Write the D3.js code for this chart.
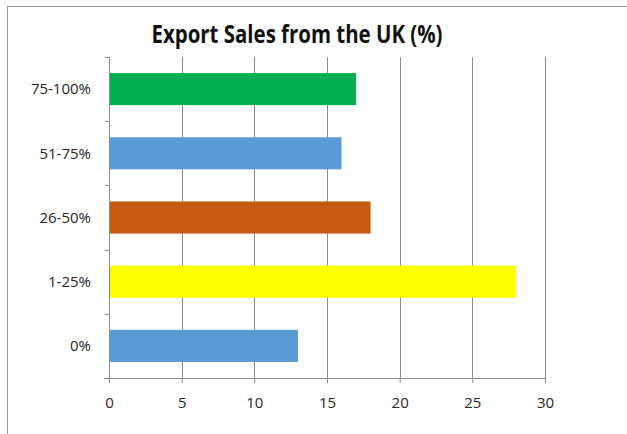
<!DOCTYPE html>
<html>
<head>
<meta charset="utf-8">
<script src="https://cdn.jsdelivr.net/npm/d3@7"></script>
<style>
  html, body { margin: 0; padding: 0; background: #fff; }
  svg { display: block; }
</style>
</head>
<body>
<svg id="chart" width="627" height="434"></svg>
<script>
// Share of firms by proportion of sales exported from the UK
const categories = ["75-100%", "51-75%", "26-50%", "1-25%", "0%"];
const values = [17, 16, 18, 28, 13];
const colors = ["#00B050", "#5B9BD5", "#C55A11", "#FFFF00", "#5B9BD5"];
const xTicks = [0, 5, 10, 15, 20, 25, 30];
const title = "Export Sales from the UK (%)";

const svg = d3.select("#chart");
const W = 627, H = 434;
const margin = { top: 57, right: 82, bottom: 56, left: 109 };
const innerW = W - margin.left - margin.right;
const innerH = H - margin.top - margin.bottom;

// chart frame
svg.append("rect")
  .attr("x", 7.5).attr("y", 6.5)
  .attr("width", W + 10).attr("height", H + 10)
  .attr("fill", "#fff")
  .attr("stroke", "#9a9a9a").attr("stroke-width", 1);

const g = svg.append("g").attr("transform", `translate(${margin.left},${margin.top})`);

const x = d3.scaleLinear().domain([0, 30]).range([0, innerW]);
const y = d3.scaleBand().domain(categories).range([0, innerH]).paddingInner(0.5).paddingOuter(0.25);

// vertical gridlines
g.append("g")
  .selectAll("line")
  .data(xTicks.filter(d => d > 0))
  .join("line")
  .attr("x1", d => Math.round(x(d)) + 0.5).attr("x2", d => Math.round(x(d)) + 0.5)
  .attr("y1", 0).attr("y2", innerH)
  .attr("stroke", "#8c8c8c").attr("stroke-width", 1);

// bars
g.append("g")
  .selectAll("rect")
  .data(categories)
  .join("rect")
  .attr("x", 0)
  .attr("y", d => y(d))
  .attr("width", (d, i) => x(values[i]))
  .attr("height", y.bandwidth())
  .attr("fill", (d, i) => colors[i]);

const fontStack = "'Open Sans', 'Liberation Sans', sans-serif";

// x axis
const xAxis = g.append("g")
  .attr("transform", `translate(0,${innerH})`)
  .call(d3.axisBottom(x).tickValues(xTicks).tickSize(5).tickSizeOuter(0).tickPadding(14));
xAxis.select(".domain").attr("stroke", "#8c8c8c").attr("d", `M-5,0.5H${innerW}`);
xAxis.selectAll(".tick line").attr("stroke", "#8c8c8c");
xAxis.selectAll("text")
  .attr("fill", "#262626").style("font-family", fontStack).style("font-size", "15px");

// y axis: ticks between categories
const bounds = d3.range(categories.length + 1).map(i => i * innerH / categories.length);
const yAx = g.append("g");
yAx.append("line")
  .attr("x1", 0.5).attr("x2", 0.5).attr("y1", 0).attr("y2", innerH)
  .attr("stroke", "#8c8c8c");
yAx.selectAll("line.tk")
  .data(bounds)
  .join("line").attr("class", "tk")
  .attr("x1", -4).attr("x2", 0.5)
  .attr("y1", d => Math.round(d) + 0.5).attr("y2", d => Math.round(d) + 0.5)
  .attr("stroke", "#8c8c8c");
yAx.selectAll("text")
  .data(categories)
  .join("text")
  .attr("x", -18)
  .attr("y", d => y(d) + y.bandwidth() / 2)
  .attr("dy", "0.35em")
  .attr("text-anchor", "end")
  .attr("fill", "#262626")
  .style("font-family", fontStack).style("font-size", "15px")
  .text(d => d);

// title
svg.append("text")
  .attr("x", 297).attr("y", 43)
  .attr("text-anchor", "middle")
  .attr("fill", "#111")
  .style("font-family", fontStack).style("font-size", "25px").style("font-weight", "bold")
  .attr("textLength", 291).attr("lengthAdjust", "spacingAndGlyphs")
  .text(title);
</script>
</body>
</html>
